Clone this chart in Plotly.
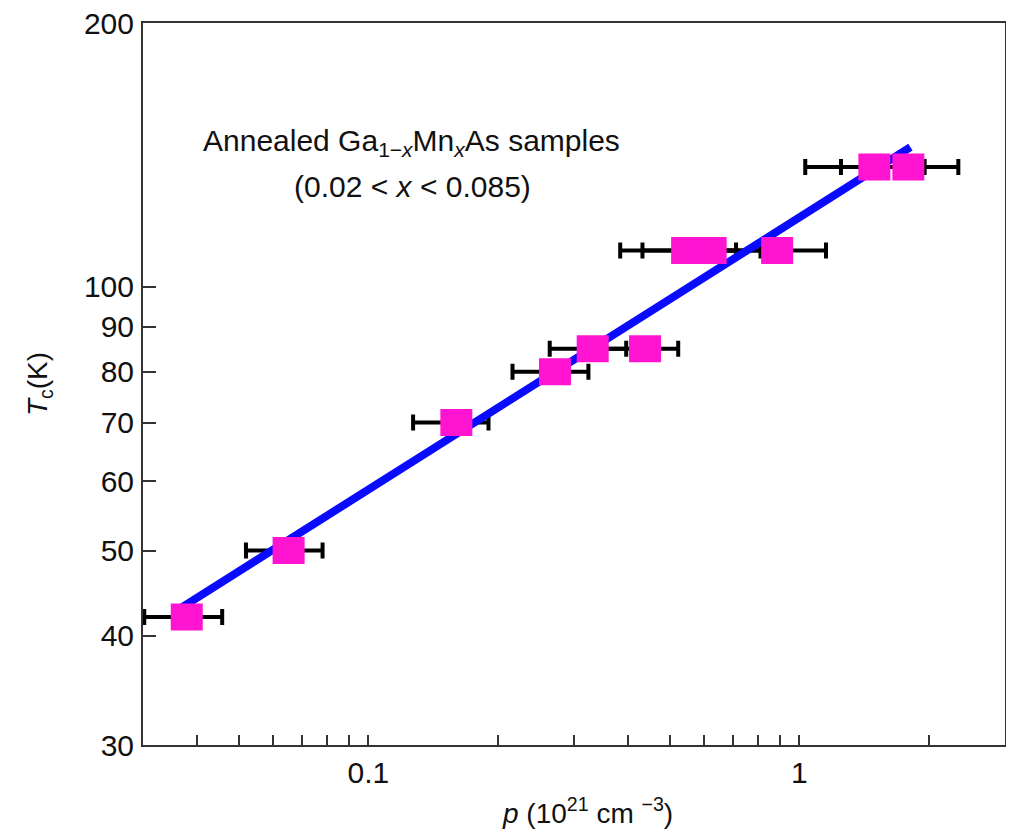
import numpy as np
import plotly.graph_objects as go

# ---- data ----
p_vals = [0.0379, 0.0653, 0.160, 0.271, 0.3315, 0.4385, 0.549, 0.6225, 0.888, 1.493, 1.790]
tc_vals = [42, 50, 70, 80, 85, 85, 110, 110, 110, 137, 137]
p_err_plus = [0.0079, 0.0130, 0.030, 0.053, 0.065, 0.085, 0.164, 0.190, 0.265, 0.460, 0.548]
p_err_minus = [0.0077, 0.0133, 0.033, 0.055, 0.068, 0.085, 0.165, 0.190, 0.265, 0.461, 0.541]

fit_p = [0.0370, 1.81]
fit_tc = [43.1, 144.3]

x_tickvals = [0.04, 0.05, 0.06, 0.07, 0.08, 0.09, 0.1, 0.2, 0.3, 0.4, 0.5,
              0.6, 0.7, 0.8, 0.9, 1, 2, 3]
x_ticktext = ["", "", "", "", "", "", "0.1", "", "", "", "", "", "", "", "", "1", "", ""]
y_tickvals = [30, 40, 50, 60, 70, 80, 90, 100, 200]
y_ticktext = ["30", "40", "50", "60", "70", "80", "90", "100", "200"]

FONT = "Liberation Sans, Arial, Helvetica, sans-serif"
MAGENTA = "#ff14d2"
BLUE = "#0a0aff"

fig = go.Figure()

# error bars (behind everything)
fig.add_trace(go.Scatter(
    x=p_vals, y=tc_vals, mode="markers",
    marker=dict(size=1, opacity=0),
    error_x=dict(type="data", symmetric=False, array=p_err_plus,
                 arrayminus=p_err_minus, color="black", thickness=4, width=8),
    showlegend=False, hoverinfo="skip"))

# fit line
fig.add_trace(go.Scatter(
    x=fit_p, y=fit_tc, mode="lines",
    line=dict(color=BLUE, width=8),
    showlegend=False, hoverinfo="skip"))

# pink rectangular markers (32 x 27 px)
fig.add_trace(go.Scatter(
    x=p_vals, y=tc_vals, mode="markers",
    marker=dict(symbol="line-ew", size=32 / 1.4, color=MAGENTA,
                line=dict(color=MAGENTA, width=27)),
    showlegend=False))

# the page body has an 8px default margin; size the figure so the plot area
# lands where the reference has it (x 143..1005, y 23..745)
fig.update_layout(
    width=998, height=821,
    margin=dict(l=135, r=1, t=15, b=84, autoexpand=False),
    paper_bgcolor="white", plot_bgcolor="white",
    font=dict(family=FONT, size=30, color="#111111"),
    xaxis=dict(
        type="log", range=[np.log10(0.03), np.log10(3)],
        tickmode="array", tickvals=x_tickvals, ticktext=x_ticktext,
        ticks="inside", ticklen=10, tickwidth=2, tickcolor="#333333",
        showline=True, linecolor="#333333", linewidth=2, mirror=True,
        showgrid=False, zeroline=False, automargin=False,
        tickfont=dict(size=30), ticklabelstandoff=0, ticklabeloverflow="allow",
    ),
    yaxis=dict(
        type="log", range=[np.log10(30), np.log10(200)],
        tickmode="array", tickvals=y_tickvals, ticktext=y_ticktext,
        ticks="inside", ticklen=13, tickwidth=2, tickcolor="#333333",
        showline=True, linecolor="#333333", linewidth=2, mirror=True,
        showgrid=False, zeroline=False, automargin=False,
        tickfont=dict(size=30), ticklabelstandoff=1, ticklabeloverflow="allow",
        title=dict(text="<i>T</i><sub>c</sub>(K)", font=dict(size=28), standoff=28),
    ),
    annotations=[
        dict(xref="paper", yref="paper", x=0.3115, y=0.8338,
             text="Annealed Ga<sub>1−<i>x</i></sub>Mn<sub><i>x</i></sub>As samples",
             showarrow=False, font=dict(size=30), xanchor="center", yanchor="middle"),
        dict(xref="paper", yref="paper", x=0.3132, y=0.774,
             text="(0.02 < <i>x</i> < 0.085)",
             showarrow=False, font=dict(size=30), xanchor="center", yanchor="middle"),
        dict(xref="paper", yref="paper", x=0.516, y=-0.091,
             text="<i>p</i> (10<sup>21</sup> cm <sup>−3</sup>)",
             showarrow=False, font=dict(size=28), xanchor="center", yanchor="middle"),
    ],
)

fig.write_html("out.html")
